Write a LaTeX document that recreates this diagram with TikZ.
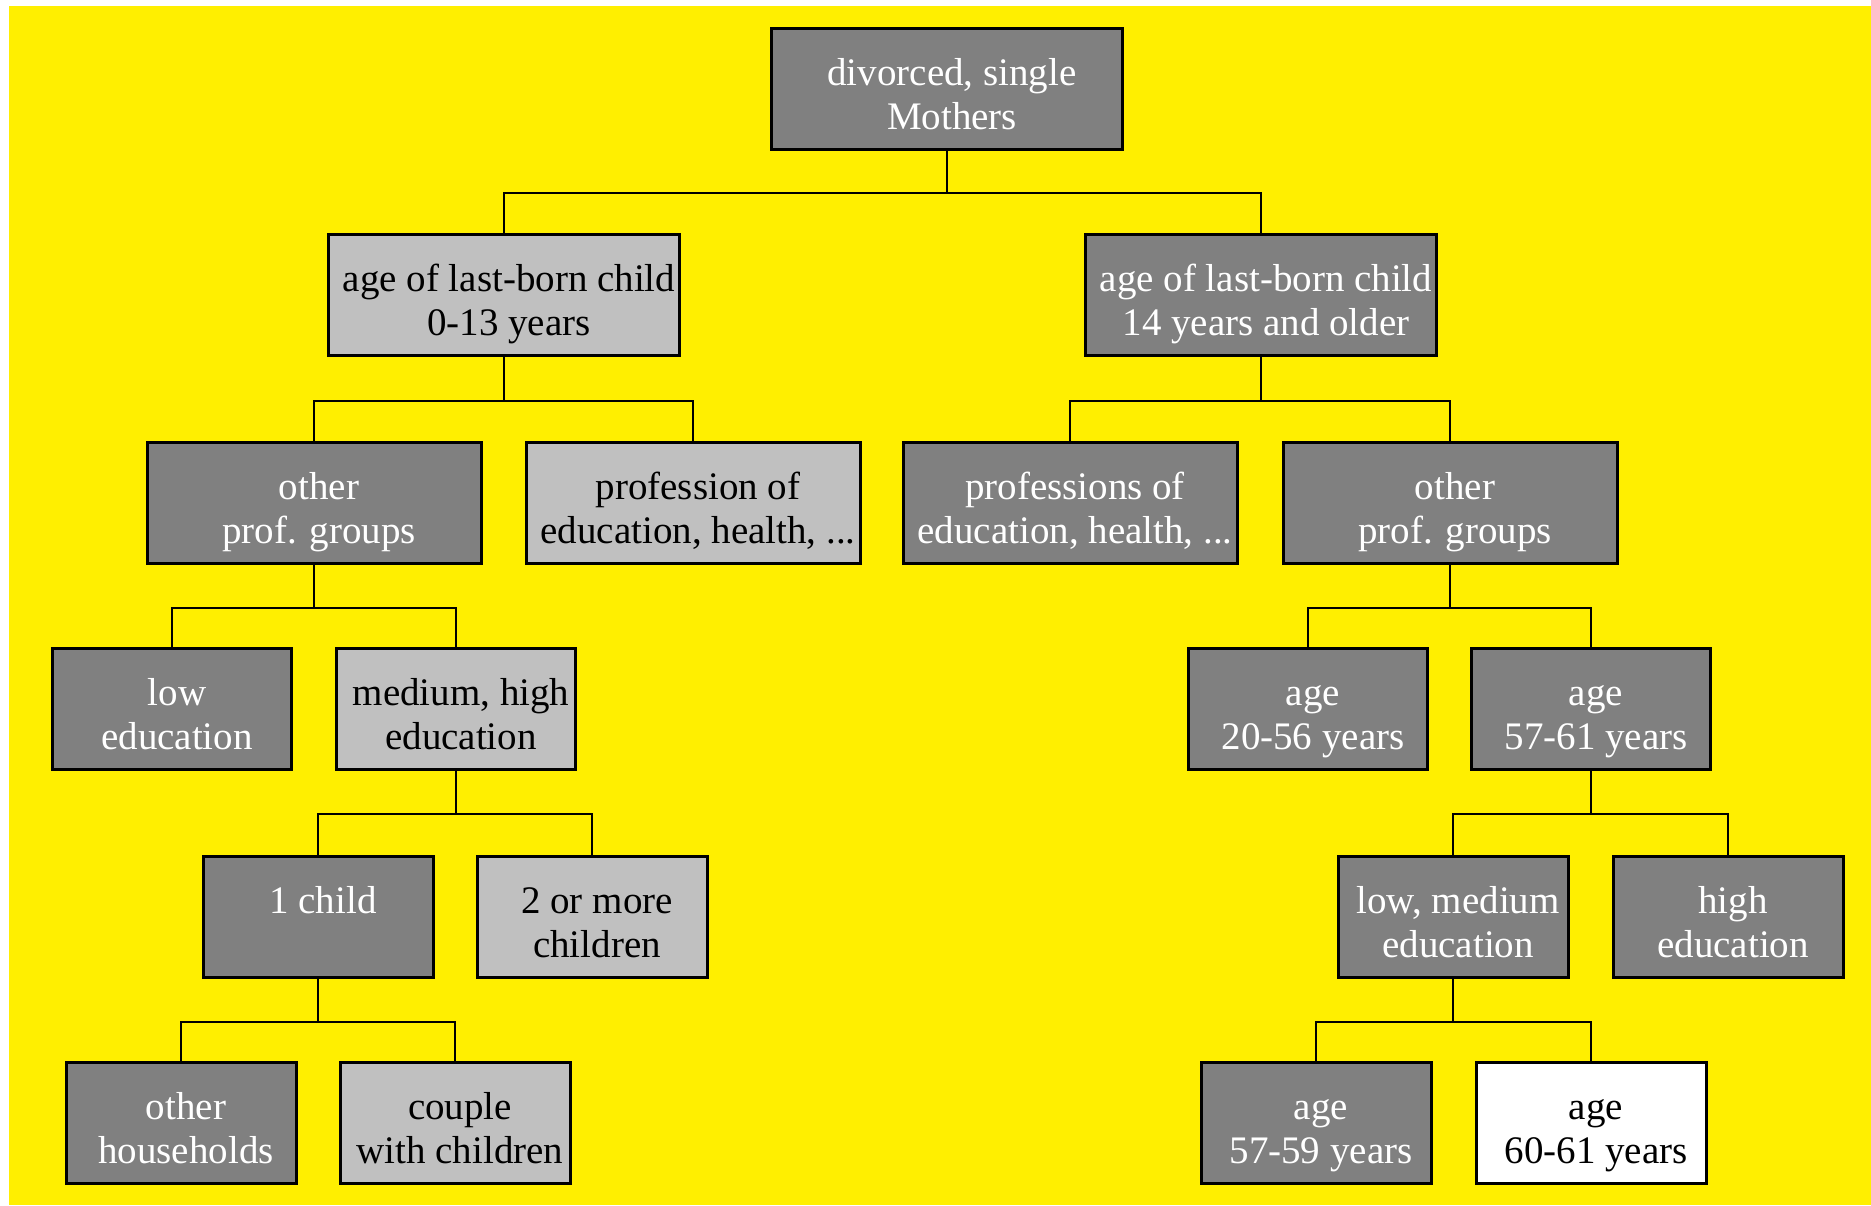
\documentclass[tikz,border=0pt]{standalone}
\usepackage{fontspec}
\setmainfont{Liberation Serif}
\usepackage{tikz}
\usetikzlibrary{positioning,calc}
\definecolor{bgyellow}{HTML}{FFEF00}
\definecolor{boxdark}{HTML}{808080}
\definecolor{boxlight}{HTML}{C0C0C0}
% fixed height above the last baseline and fixed depth below it
\newcommand{\topstrut}{\rule{0pt}{46pt}\hspace*{5pt}}
\newcommand{\botstrut}{\rule[-5.25pt]{0pt}{5.25pt}}

\begin{document}
\begin{tikzpicture}[
  x=0.5pt,y=-0.5pt,
  font=\fontsize{19.5pt}{22pt}\selectfont,
  box/.style={draw=black,line width=1.5pt,align=center,inner sep=0pt,minimum height=60.25pt,
              execute at begin node=\topstrut,execute at end node=\botstrut},
  dark/.style={box,fill=boxdark,text=white},
  light/.style={box,fill=boxlight,text=black},
  blank/.style={box,fill=white,text=black},
  wa/.style={minimum width=175.5pt},
  wb/.style={minimum width=167pt},
  wc/.style={minimum width=119.5pt},
  wd/.style={minimum width=115pt},
  link/.style={draw=black,line width=1.2pt}
]
\useasboundingbox (0,0) rectangle (1871,1205);
\fill[bgyellow] (9,6) rectangle (1871,1205);

% level 0 and 1
\node[dark,wa] (root) at (947,89) {divorced, single\\Mothers};
\node[light,wa] (young) at (504,295) {age of last-born child\\0-13 years};
\node[dark,wa] (old) at (1261,295) {age of last-born child\\14 years and older};

% level 2
\node[dark,wb] (yother) at (314,503) {other\\prof. groups};
\node[light,wb] (yprof) at (693,503) {profession of\\education, health, ...};
\node[dark,wb] (oprof) at (1070,503) {professions of\\education, health, ...};
\node[dark,wb] (oother) at (1450,503) {other\\prof. groups};

% level 3
\node[dark,wc] (loedu) at (172,709) {low\\education};
\node[light,wc] (hiedu) at (456,709) {medium, high\\education};
\node[dark,wc] (agea) at (1308,709) {age\\20-56 years};
\node[dark,wc] (ageb) at (1591,709) {age\\57-61 years};

% level 4
\node[dark,wd] (onechild) at (318,917) {1 child\\};
\node[light,wd] (morechild) at (592,917) {2 or more\\children};
\node[dark,wd] (lmedu) at (1453,917) {low, medium\\education};
\node[dark,wd] (highedu) at (1728,917) {high\\education};

% level 5
\node[dark,wd] (otherhh) at (181,1123) {other\\households};
\node[light,wd] (couple) at (455,1123) {couple\\with children};
\node[dark,wd] (agec) at (1316,1123) {age\\57-59 years};
\node[blank,wd] (aged) at (1591,1123) {age\\60-61 years};

\draw[link] (root.south) -- ++(0,-21pt) -| (young.north);
\draw[link] (root.south) -- ++(0,-21pt) -| (old.north);
\draw[link] (young.south) -- ++(0,-22pt) -| (yother.north);
\draw[link] (young.south) -- ++(0,-22pt) -| (yprof.north);
\draw[link] (old.south) -- ++(0,-22pt) -| (oprof.north);
\draw[link] (old.south) -- ++(0,-22pt) -| (oother.north);
\draw[link] (yother.south) -- ++(0,-21.5pt) -| (loedu.north);
\draw[link] (yother.south) -- ++(0,-21.5pt) -| (hiedu.north);
\draw[link] (oother.south) -- ++(0,-21.5pt) -| (agea.north);
\draw[link] (oother.south) -- ++(0,-21.5pt) -| (ageb.north);
\draw[link] (hiedu.south) -- ++(0,-21.5pt) -| (onechild.north);
\draw[link] (hiedu.south) -- ++(0,-21.5pt) -| (morechild.north);
\draw[link] (ageb.south) -- ++(0,-21.5pt) -| (lmedu.north);
\draw[link] (ageb.south) -- ++(0,-21.5pt) -| (highedu.north);
\draw[link] (onechild.south) -- ++(0,-21.5pt) -| (otherhh.north);
\draw[link] (onechild.south) -- ++(0,-21.5pt) -| (couple.north);
\draw[link] (lmedu.south) -- ++(0,-21.5pt) -| (agec.north);
\draw[link] (lmedu.south) -- ++(0,-21.5pt) -| (aged.north);
\end{tikzpicture}
\end{document}
